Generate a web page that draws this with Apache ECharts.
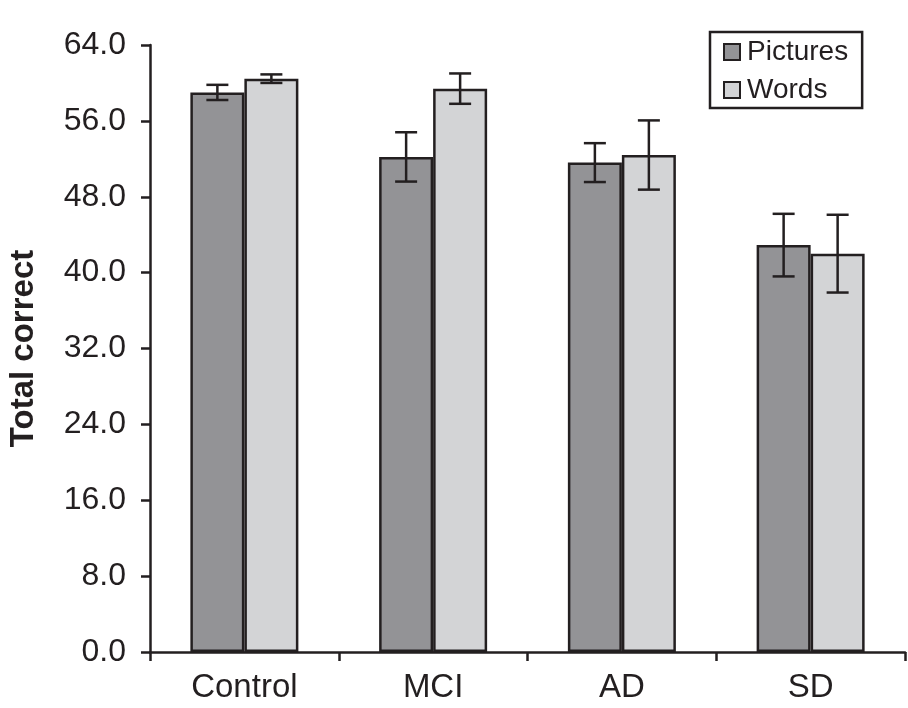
<!DOCTYPE html>
<html>
<head>
<meta charset="utf-8">
<script src="https://cdn.jsdelivr.net/npm/echarts@6/dist/echarts.min.js"></script>
<style>
  html, body { margin: 0; padding: 0; background: #fff; }
  #chart { width: 908px; height: 708px; }
</style>
</head>
<body>
<div id="chart"></div>
<script type="text/javascript">
// categories and values
var groups = ['Control', 'MCI', 'AD', 'SD'];
var pictures = [59.0, 52.2, 51.6, 42.9];
var picturesErr = [0.8, 2.6, 2.05, 3.3];
var words = [60.45, 59.4, 52.4, 42.0];
var wordsErr = [0.45, 1.6, 3.65, 4.1];
var yTicks = [0, 8, 16, 24, 32, 40, 48, 56, 64];

var ink = '#231f20';
var font = 'Liberation Sans, Arial, sans-serif';
var barW = 54;

function errData(vals, errs) {
    var out = [];
    for (var i = 0; i < vals.length; i++) {
        out.push([i, vals[i] - errs[i], vals[i] + errs[i]]);
    }
    return out;
}

// whisker drawn at the bar centre (shift = -1 left bar, +1 right bar)
function whisker(shift) {
    return function (params, api) {
        var x = api.value(0);
        var lo = api.coord([x, api.value(1)]);
        var hi = api.coord([x, api.value(2)]);
        var cx = lo[0] + shift * barW / 2;
        var cap = 11;
        var st = { stroke: ink, lineWidth: 2.5 };
        return {
            type: 'group',
            children: [
                { type: 'line', shape: { x1: cx, y1: hi[1], x2: cx, y2: lo[1] }, style: st },
                { type: 'line', shape: { x1: cx - cap, y1: hi[1], x2: cx + cap, y2: hi[1] }, style: st },
                { type: 'line', shape: { x1: cx - cap, y1: lo[1], x2: cx + cap, y2: lo[1] }, style: st }
            ]
        };
    };
}

var chart = echarts.init(document.getElementById('chart'));
var option = {
    animation: false,
    backgroundColor: '#ffffff',
    textStyle: { fontFamily: font, color: ink },
    grid: { left: 150, right: 3, top: 45, bottom: 56, containLabel: false, outerBoundsMode: 'none' },
    legend: {
        data: ['Pictures', 'Words'],
        orient: 'vertical',
        left: 710,
        top: 32,
        padding: [5, 14, 3, 13],
        borderColor: ink,
        borderWidth: 2.5,
        borderRadius: 0,
        icon: 'rect',
        itemWidth: 16,
        itemHeight: 16,
        itemGap: 8,
        itemStyle: { borderColor: ink, borderWidth: 2 },
        textStyle: { fontFamily: font, fontSize: 28, color: ink, lineHeight: 30, padding: [0, 0, 0, 2] }
    },
    xAxis: {
        type: 'category',
        data: groups,
        axisLine: { lineStyle: { color: ink, width: 2.5 } },
        axisTick: { show: true, length: 9, lineStyle: { color: ink, width: 2.5 } },
        axisLabel: { fontFamily: font, fontSize: 33, color: ink, margin: 19 }
    },
    yAxis: {
        type: 'value',
        min: yTicks[0],
        max: yTicks[yTicks.length - 1],
        interval: yTicks[1] - yTicks[0],
        name: 'Total correct',
        nameLocation: 'middle',
        nameGap: 110,
        nameTextStyle: { fontFamily: font, fontSize: 33, fontWeight: 'bold', color: ink },
        axisLine: { show: true, lineStyle: { color: ink, width: 2.5 } },
        axisTick: { show: true, length: 9, lineStyle: { color: ink, width: 2.5 } },
        splitLine: { show: false },
        axisLabel: {
            fontFamily: font, fontSize: 32, color: ink, margin: 24,
            formatter: function (v) { return v.toFixed(1); }
        }
    },
    series: [
        {
            name: 'Pictures',
            type: 'bar',
            barWidth: barW,
            barGap: '0%',
            data: pictures,
            itemStyle: { color: '#939396', borderColor: ink, borderWidth: 2.5 }
        },
        {
            name: 'Words',
            type: 'bar',
            barWidth: barW,
            barGap: '0%',
            data: words,
            itemStyle: { color: '#d3d4d6', borderColor: ink, borderWidth: 2.5 }
        },
        {
            type: 'custom',
            renderItem: whisker(-1),
            data: errData(pictures, picturesErr),
            z: 10
        },
        {
            type: 'custom',
            renderItem: whisker(1),
            data: errData(words, wordsErr),
            z: 10
        }
    ]
};
chart.setOption(option);
</script>
</body>
</html>
